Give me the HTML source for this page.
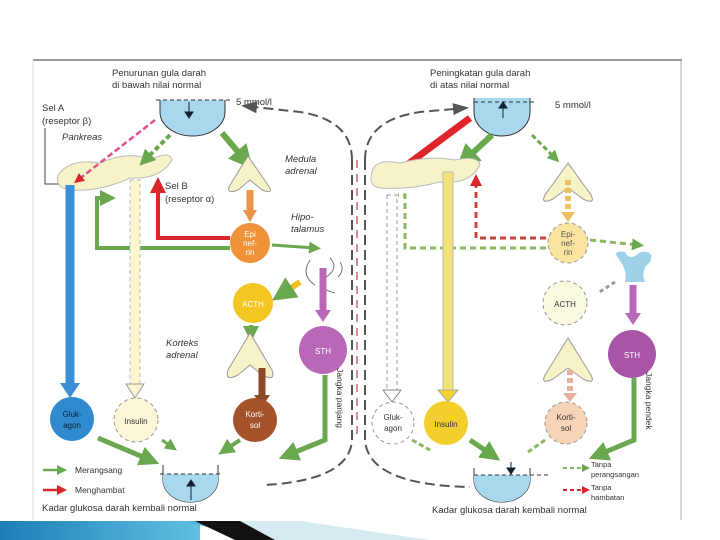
<!DOCTYPE html>
<html><head><meta charset="utf-8"><style>
html,body{margin:0;padding:0;background:#fff;width:720px;height:540px;overflow:hidden}
svg{display:block}
text{font-family:"Liberation Sans",sans-serif;fill:#333;font-size:9.5px}
.i{font-style:italic}
.w{fill:#fff;font-size:8px;text-anchor:middle}
</style></head><body>
<svg width="720" height="540" viewBox="0 0 720 540">
<defs>
<marker id="ag" markerWidth="4" markerHeight="4" refX="2" refY="2" orient="auto"><path d="M0,0L4,2L0,4z" fill="#6aa84f"/></marker>
<marker id="ar" markerWidth="4" markerHeight="4" refX="2" refY="2" orient="auto"><path d="M0,0L4,2L0,4z" fill="#d9262b"/></marker>
<marker id="ak" markerWidth="8" markerHeight="6" refX="6" refY="3" orient="auto"><path d="M0,0L8,3L0,6z" fill="#555"/></marker>
</defs>
<line x1="33" y1="60" x2="682" y2="60" stroke="#777" stroke-width="1.5"/>
<line x1="681" y1="60" x2="681" y2="520" stroke="#aaa" stroke-width="1"/>
<line x1="33" y1="60" x2="33" y2="520" stroke="#ddd" stroke-width="1"/>

<!-- LEFT -->
<text x="112" y="76">Penurunan gula darah</text>
<text x="112" y="88">di bawah nilai normal</text>
<text x="236" y="105">5 mmol/l</text>
<path d="M160,100 L160,112 A32.5,24 0 0 0 225,112 L225,100" fill="#a9d8ee" stroke="#333"/>
<line x1="156" y1="100" x2="232" y2="100" stroke="#333" stroke-dasharray="4,3"/>
<path d="M189,102v12M185,112l4,6l4,-6z" stroke="#123" fill="#123"/>
<text x="42" y="111">Sel A</text>
<text x="42" y="124">(reseptor β)</text>
<text x="62" y="140" class="i">Pankreas</text>
<path d="M45,128 V184 H60" stroke="#444" fill="none"/>
<path d="M58,175 Q70,158 100,163 Q130,150 150,160 Q170,150 172,160 Q160,180 130,178 Q100,192 70,190 Q55,188 58,175z" fill="#f7f3c8" stroke="#bbb"/>
<line x1="155" y1="120" x2="78" y2="180" stroke="#e0508c" stroke-width="2.5" stroke-dasharray="6,3" marker-end="url(#ar)"/>
<line x1="170" y1="135" x2="145" y2="160" stroke="#6aa84f" stroke-width="4" stroke-dasharray="5,3" marker-end="url(#ag)"/>
<line x1="222" y1="133" x2="245" y2="160" stroke="#6aa84f" stroke-width="6" marker-end="url(#ag)"/>
<path d="M248,156 L230,185 Q225,195 238,190 L250,180 L262,190 Q275,195 268,185z" fill="#f7f3c8" stroke="#999"/>
<text x="285" y="162" class="i">Medula</text>
<text x="285" y="174" class="i">adrenal</text>
<line x1="250" y1="190" x2="250" y2="212" stroke="#e8944a" stroke-width="7" marker-end="url(#ag)" style="marker-end:none"/>
<path d="M243,210 L257,210 L250,222z" fill="#e8944a"/>
<circle cx="250" cy="243" r="20" fill="#f0923a"/>
<text x="250" y="237" class="w">Epi</text><text x="250" y="246" class="w">nef-</text><text x="250" y="255" class="w">rin</text>
<path d="M230,238 H158 V185" stroke="#d9262b" stroke-width="4" fill="none" marker-end="url(#ar)"/>
<text x="165" y="189">Sel B</text>
<text x="165" y="202">(reseptor α)</text>
<path d="M230,248 H97 V198 H108" stroke="#6aa84f" stroke-width="4" fill="none" marker-end="url(#ag)"/>
<line x1="70" y1="185" x2="70" y2="385" stroke="#3a8fd6" stroke-width="9"/>
<path d="M60,383 L80,383 L70,398z" fill="#3a8fd6"/>
<circle cx="72" cy="419" r="22" fill="#2f8ad0"/>
<text x="72" y="417" class="w" style="fill:#123">Gluk-</text><text x="72" y="428" class="w" style="fill:#123">agon</text>
<rect x="130" y="180" width="10" height="205" fill="#fbf6d0" stroke="#bbb" stroke-dasharray="4,3"/>
<path d="M126,384 L144,384 L135,398z" fill="#fbf6d0" stroke="#999"/>
<circle cx="136" cy="420" r="22" fill="#fbf6d8" stroke="#999" stroke-dasharray="4,3"/>
<text x="136" y="424" class="w" style="fill:#333">Insulin</text>
<text x="291" y="220" class="i">Hipo-</text>
<text x="291" y="232" class="i">talamus</text>
<line x1="272" y1="245" x2="315" y2="248" stroke="#6aa84f" stroke-width="3" marker-end="url(#ag)"/>
<path d="M310,260 q-10,15 5,25 M330,258 q10,10 -5,20 q-10,10 10,15 M340,262 q5,8 -2,15" stroke="#777" fill="none"/>
<line x1="300" y1="282" x2="282" y2="294" stroke="#f0c020" stroke-width="6" marker-end="url(#ag)"/>
<circle cx="253" cy="303" r="20" fill="#f3c623"/>
<text x="253" y="307" class="w">ACTH</text>
<line x1="323" y1="268" x2="323" y2="310" stroke="#b968b8" stroke-width="7"/>
<path d="M315,310 L331,310 L323,322z" fill="#b968b8"/>
<circle cx="323" cy="350" r="24" fill="#b968b8"/>
<text x="323" y="354" class="w">STH</text>
<line x1="251" y1="325" x2="251" y2="334" stroke="#6aa84f" stroke-width="4" marker-end="url(#ag)"/>
<path d="M250,333 L228,370 Q224,382 238,375 L250,365 L262,375 Q276,382 272,370z" fill="#f7f3c8" stroke="#999"/>
<text x="166" y="346" class="i">Korteks</text>
<text x="166" y="358" class="i">adrenal</text>
<line x1="262" y1="368" x2="262" y2="395" stroke="#8b4a2a" stroke-width="7"/>
<path d="M254,395 L270,395 L262,407z" fill="#8b4a2a"/>
<circle cx="255" cy="420" r="22" fill="#a4522a"/>
<text x="255" y="417" class="w">Korti-</text><text x="255" y="428" class="w">sol</text>
<text transform="translate(337,368) rotate(90)" style="font-size:8.5px">Jangka panjang</text>
<path d="M325,375 V440 L288,455" stroke="#6aa84f" stroke-width="5" fill="none" marker-end="url(#ag)"/>
<line x1="98" y1="438" x2="150" y2="460" stroke="#6aa84f" stroke-width="5" marker-end="url(#ag)"/>
<line x1="162" y1="440" x2="172" y2="447" stroke="#6aa84f" stroke-width="3" marker-end="url(#ag)"/>
<line x1="240" y1="440" x2="225" y2="450" stroke="#6aa84f" stroke-width="4" marker-end="url(#ag)"/>
<path d="M163,465 L163,480 A27.5,22 0 0 0 218,480 L218,465" fill="none" stroke="#333"/>
<path d="M163,474 L218,474 L218,480 A27.5,22 0 0 1 163,480z" fill="#a9d8ee"/>
<line x1="160" y1="474" x2="222" y2="474" stroke="#333" stroke-dasharray="4,3"/>
<path d="M191,500v-16M187,486l4,-6l4,6z" stroke="#123" fill="#123"/>
<line x1="43" y1="470" x2="62" y2="470" stroke="#6aa84f" stroke-width="2.5" marker-end="url(#ag)"/>
<text x="75" y="473" style="font-size:8.5px">Merangsang</text>
<line x1="43" y1="490" x2="62" y2="490" stroke="#d9262b" stroke-width="2.5" marker-end="url(#ar)"/>
<text x="75" y="493" style="font-size:8.5px">Menghambat</text>
<text x="42" y="511">Kadar glukosa darah kembali normal</text>

<!-- center dashed loop -->
<path d="M352,160 Q352,120 300,112 L245,106" stroke="#555" stroke-width="2" fill="none" stroke-dasharray="10,5" marker-end="url(#ak)"/>
<path d="M352,160 V440 Q350,480 265,485" stroke="#555" stroke-width="2" fill="none" stroke-dasharray="10,5"/>
<path d="M365,160 Q365,120 420,112 L465,108" stroke="#555" stroke-width="2" fill="none" stroke-dasharray="10,5" marker-end="url(#ak)"/>
<path d="M365,160 V440 Q368,485 470,487" stroke="#555" stroke-width="2" fill="none" stroke-dasharray="10,5"/>
<line x1="357" y1="160" x2="357" y2="440" stroke="#c66" stroke-width="1.5" stroke-dasharray="8,6"/>

<!-- RIGHT -->
<text x="430" y="76">Peningkatan gula darah</text>
<text x="430" y="88">di atas nilai normal</text>
<text x="555" y="108">5 mmol/l</text>
<path d="M474,98 L474,112 A28,24 0 0 0 530,112 L530,98" fill="#a9d8ee" stroke="#333"/>
<line x1="474" y1="102" x2="535" y2="102" stroke="#333" stroke-dasharray="4,3"/>
<path d="M503,118v-12M499,108l4,-6l4,6z" stroke="#123" fill="#123"/>
<line x1="470" y1="118" x2="392" y2="176" stroke="#e0252a" stroke-width="7"/>
<path d="M385,182 L392,168 L400,180z" fill="#e0252a"/>
<line x1="492" y1="135" x2="465" y2="160" stroke="#6aa84f" stroke-width="6" marker-end="url(#ag)"/>
<path d="M372,172 Q375,158 400,163 Q430,155 455,160 Q478,155 480,165 Q470,185 440,182 Q410,190 380,188 Q368,186 372,172z" fill="#f7f3c8" stroke="#bbb"/>
<line x1="532" y1="135" x2="555" y2="158" stroke="#6aa84f" stroke-width="3" stroke-dasharray="5,3" marker-end="url(#ag)"/>
<path d="M568,163 L545,195 Q540,205 553,199 L568,188 L583,199 Q596,205 591,195z" fill="#f7f3c8" stroke="#999"/>
<line x1="568" y1="180" x2="568" y2="212" stroke="#f0c060" stroke-width="6" stroke-dasharray="5,3"/>
<path d="M561,212 L575,212 L568,222z" fill="#f0c060"/>
<circle cx="568" cy="243" r="20" fill="#fbe3a0" stroke="#999" stroke-dasharray="4,3"/>
<text x="568" y="237" class="w" style="fill:#555">Epi-</text><text x="568" y="246" class="w" style="fill:#555">nef-</text><text x="568" y="255" class="w" style="fill:#555">rin</text>
<path d="M546,238 H476 V180" stroke="#c8443e" stroke-width="3" fill="none" stroke-dasharray="6,4" marker-end="url(#ar)"/>
<path d="M546,248 H405 V195 H398" stroke="#8bb860" stroke-width="3" fill="none" stroke-dasharray="6,4"/>
<line x1="590" y1="240" x2="638" y2="245" stroke="#8bb860" stroke-width="3" stroke-dasharray="6,4" marker-end="url(#ag)"/>
<path d="M618,258 Q612,250 625,252 Q630,262 640,252 Q655,250 650,262 Q640,270 645,282 L625,282 Q628,270 618,258z" fill="#9fd1ea"/>
<line x1="615" y1="282" x2="598" y2="293" stroke="#999" stroke-width="3" stroke-dasharray="4,3"/>
<circle cx="565" cy="303" r="22" fill="#fbf8e0" stroke="#999" stroke-dasharray="4,3"/>
<text x="565" y="307" class="w" style="fill:#333">ACTH</text>
<line x1="633" y1="285" x2="633" y2="313" stroke="#b968b8" stroke-width="7"/>
<path d="M625,313 L641,313 L633,325z" fill="#b968b8"/>
<circle cx="632" cy="354" r="24" fill="#a855a8"/>
<text x="632" y="358" class="w">STH</text>
<path d="M568,338 L545,375 Q540,385 553,379 L568,368 L583,379 Q596,385 591,375z" fill="#f7f3c8" stroke="#999"/>
<line x1="570" y1="370" x2="570" y2="393" stroke="#e6b09a" stroke-width="6" stroke-dasharray="5,3"/>
<path d="M563,393 L577,393 L570,402z" fill="#e6b09a"/>
<circle cx="566" cy="423" r="21" fill="#f7d4b5" stroke="#999" stroke-dasharray="4,3"/>
<text x="566" y="420" class="w" style="fill:#333">Korti-</text><text x="566" y="431" class="w" style="fill:#333">sol</text>
<text transform="translate(646,372) rotate(90)" style="font-size:8.5px">Jangka pendek</text>
<path d="M634,378 V440 L598,455" stroke="#6aa84f" stroke-width="5" fill="none" marker-end="url(#ag)"/>
<rect x="387" y="195" width="10" height="195" fill="#fff" stroke="#999" stroke-dasharray="4,3"/>
<path d="M383,390 L401,390 L392,402z" fill="#fff" stroke="#888"/>
<circle cx="393" cy="423" r="21" fill="#fff" stroke="#999" stroke-dasharray="4,3"/>
<text x="393" y="420" class="w" style="fill:#333">Gluk-</text><text x="393" y="431" class="w" style="fill:#333">agon</text>
<rect x="443" y="172" width="10" height="220" fill="#f3e27a" stroke="#bba"/>
<path d="M438,390 L458,390 L448,402z" fill="#f3d12e" stroke="#aa9"/>
<circle cx="446" cy="423" r="22" fill="#f3cf2e"/>
<text x="446" y="427" class="w" style="fill:#333">Insulin</text>
<line x1="412" y1="440" x2="430" y2="450" stroke="#8bb860" stroke-width="3" stroke-dasharray="5,3"/>
<line x1="470" y1="440" x2="492" y2="455" stroke="#6aa84f" stroke-width="5" marker-end="url(#ag)"/>
<line x1="545" y1="440" x2="528" y2="452" stroke="#8bb860" stroke-width="3" stroke-dasharray="5,3"/>
<path d="M474,468 L474,480 A28,22 0 0 0 530,480 L530,468" fill="none" stroke="#333"/>
<path d="M474,475 L530,475 L530,480 A28,22 0 0 1 474,480z" fill="#a9d8ee"/>
<line x1="474" y1="475" x2="548" y2="475" stroke="#333" stroke-dasharray="4,3"/>
<path d="M511,462v10M507,468l4,6l4,-6z" stroke="#123" fill="#123"/>
<line x1="563" y1="468" x2="586" y2="468" stroke="#8bb860" stroke-width="2" stroke-dasharray="4,3" marker-end="url(#ag)"/>
<text x="591" y="467" style="font-size:7.5px">Tanpa</text>
<text x="591" y="477" style="font-size:7.5px">perangsangan</text>
<line x1="563" y1="490" x2="586" y2="490" stroke="#d9262b" stroke-width="2" stroke-dasharray="4,3" marker-end="url(#ar)"/>
<text x="591" y="490" style="font-size:7.5px">Tanpa</text>
<text x="591" y="500" style="font-size:7.5px">hambatan</text>
<text x="432" y="513">Kadar glukosa darah kembali normal</text>

<!-- bottom bar -->
<defs><linearGradient id="bg" x1="0" x2="1"><stop offset="0" stop-color="#1c7fb8"/><stop offset="1" stop-color="#5fc0e0"/></linearGradient></defs>
<rect x="0" y="521" width="200" height="19" fill="url(#bg)"/>
<polygon points="185,521 240,521 330,540 255,540" fill="#49b0d6"/>
<polygon points="195,521 245,521 275,540 235,540" fill="#111"/>
<polygon points="240,521 300,521 430,540 275,540" fill="#d6eaf2"/>
</svg>
</body></html>
